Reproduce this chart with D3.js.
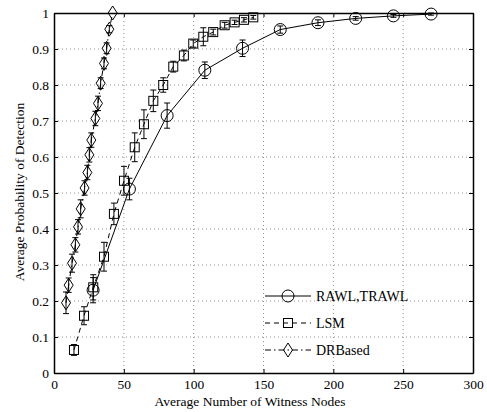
<!DOCTYPE html>
<html>
<head>
<meta charset="utf-8">
<script src="https://cdn.jsdelivr.net/npm/d3@7"></script>
<style>
  body { margin: 0; background: #fff; }
  svg text { font-family: "Liberation Serif", "DejaVu Serif", serif; fill: #000; }
</style>
</head>
<body>
<div id="content"></div>
<script>
// Series
const rawlX = [28, 54, 81, 108, 135, 162, 189, 216, 243, 270];
const rawlY = [0.23, 0.511, 0.715, 0.841, 0.902, 0.954, 0.973, 0.985, 0.992, 0.997];
const rawlErr = [0.035, 0.03, 0.035, 0.023, 0.023, 0.01, 0.008, 0.005, 0.004, 0.003];

const lsmX = [14.3, 21.5, 28.1, 35.8, 42.9, 50.1, 57.8, 64.4, 71.1, 78.2, 85.4, 93, 99.7, 106.9, 114, 122.2, 129.3, 136, 142.7];
const lsmY = [0.064, 0.159, 0.238, 0.323, 0.442, 0.534, 0.627, 0.691, 0.756, 0.80, 0.851, 0.882, 0.915, 0.934, 0.947, 0.966, 0.974, 0.981, 0.988];
const lsmErr = [0.015, 0.025, 0.035, 0.04, 0.03, 0.04, 0.04, 0.04, 0.03, 0.02, 0.015, 0.015, 0.01, 0.025, 0.008, 0.008, 0.006, 0.006, 0.005];

const drX = [8.6, 10.5, 12.9, 15.3, 17.2, 19.1, 21.9, 23.9, 25.3, 26.7, 29.6, 31.5, 33.4, 35.8, 37.7, 39.6, 42];
const drY = [0.195, 0.244, 0.305, 0.356, 0.406, 0.456, 0.514, 0.557, 0.606, 0.647, 0.707, 0.749, 0.805, 0.86, 0.902, 0.955, 1.0];
const drErr = [0.03, 0.02, 0.025, 0.02, 0.02, 0.025, 0.02, 0.02, 0.02, 0.02, 0.02, 0.02, 0.015, 0.015, 0.015, 0.01, 0.0];

const xTicks = [0, 50, 100, 150, 200, 250, 300];
const yTicks = [0, 0.1, 0.2, 0.3, 0.4, 0.5, 0.6, 0.7, 0.8, 0.9, 1];

const legendNames = ['RAWL,TRAWL', 'LSM', 'DRBased'];

const width = 487, height = 412;
const padLeft = 54, padRight = 473, padTop = 13, padBottom = 373;

const xScale = d3.scaleLinear().domain([0, 300]).range([padLeft, padRight]);
const yScale = d3.scaleLinear().domain([0, 1]).range([padBottom, padTop]);

const svg = d3.select('#content').append('svg')
    .attr('width', width).attr('height', height);

// Grid punteado
svg.append('g').selectAll('line')
    .data(xTicks.slice(1, -1)).enter().append('line')
    .attr('x1', d => xScale(d)).attr('x2', d => xScale(d))
    .attr('y1', padTop).attr('y2', padBottom)
    .attr('stroke', '#777').attr('stroke-width', 0.8).attr('stroke-dasharray', '1,3');
svg.append('g').selectAll('line')
    .data(yTicks.slice(1, -1)).enter().append('line')
    .attr('x1', padLeft).attr('x2', padRight)
    .attr('y1', d => yScale(d)).attr('y2', d => yScale(d))
    .attr('stroke', '#777').attr('stroke-width', 0.8).attr('stroke-dasharray', '1,3');

// Ejes (ticks hacia dentro en los cuatro lados)
const fmtY = d => d === 0 || d === 1 ? String(d) : d3.format('.1f')(d);
const axB = svg.append('g').attr('transform', `translate(0,${padBottom})`)
    .call(d3.axisBottom(xScale).tickValues(xTicks).tickSizeInner(-4).tickSizeOuter(0).tickPadding(6));
const axT = svg.append('g').attr('transform', `translate(0,${padTop})`)
    .call(d3.axisTop(xScale).tickValues(xTicks).tickSizeInner(-4).tickSizeOuter(0).tickFormat(''));
const axL = svg.append('g').attr('transform', `translate(${padLeft},0)`)
    .call(d3.axisLeft(yScale).tickValues(yTicks).tickSizeInner(-4).tickSizeOuter(0).tickPadding(5).tickFormat(fmtY));
const axR = svg.append('g').attr('transform', `translate(${padRight},0)`)
    .call(d3.axisRight(yScale).tickValues(yTicks).tickSizeInner(-4).tickSizeOuter(0).tickFormat(''));
[axB, axT, axL, axR].forEach(a => {
    a.select('.domain').attr('stroke', '#000').attr('stroke-width', 1.5);
    a.selectAll('.tick line').attr('stroke', '#000');
    a.selectAll('text').attr('font-size', 13.5).attr('font-family', '"Liberation Serif", serif');
});

// Series
const series = [
    { xs: rawlX, ys: rawlY, es: rawlErr, dash: null, marker: 'circle' },
    { xs: lsmX, ys: lsmY, es: lsmErr, dash: '5,4', marker: 'square' },
    { xs: drX, ys: drY, es: drErr, dash: '6,3,1.5,3', marker: 'diamond' }
];

const drawMarker = (g, type, cx, cy) => {
    if (type === 'circle') {
        g.append('circle').attr('cx', cx).attr('cy', cy).attr('r', 6)
            .attr('fill', 'none').attr('stroke', '#000').attr('stroke-width', 1);
    } else if (type === 'square') {
        g.append('rect').attr('x', cx - 4.5).attr('y', cy - 4.5).attr('width', 9).attr('height', 9)
            .attr('fill', 'none').attr('stroke', '#000').attr('stroke-width', 1);
    } else {
        g.append('path').attr('d', `M${cx},${cy - 7}L${cx + 4.5},${cy}L${cx},${cy + 7}L${cx - 4.5},${cy}Z`)
            .attr('fill', 'none').attr('stroke', '#000').attr('stroke-width', 1);
    }
};

series.forEach(s => {
    const pts = s.xs.map((x, i) => [x, s.ys[i], s.es[i]]);
    const line = d3.line().x(d => xScale(d[0])).y(d => yScale(d[1]));
    const g = svg.append('g');
    g.append('path').datum(pts).attr('d', line)
        .attr('fill', 'none').attr('stroke', '#000').attr('stroke-width', 1)
        .attr('stroke-dasharray', s.dash);
    pts.forEach(p => {
        const cx = xScale(p[0]);
        const y1 = yScale(p[1] + p[2]), y2 = yScale(p[1] - p[2]);
        if (p[2] > 0) {
            g.append('line').attr('x1', cx).attr('x2', cx).attr('y1', y1).attr('y2', y2)
                .attr('stroke', '#000').attr('stroke-width', 1);
            [y1, y2].forEach(yy => {
                g.append('line').attr('x1', cx - 3).attr('x2', cx + 3).attr('y1', yy).attr('y2', yy)
                    .attr('stroke', '#000').attr('stroke-width', 1);
            });
        }
        drawMarker(g, s.marker, cx, yScale(p[1]));
    });
});

// Leyenda (sin recuadro)
const legY = [296, 323, 350];
legendNames.forEach((name, i) => {
    const g = svg.append('g');
    g.append('line').attr('x1', 265).attr('x2', 311).attr('y1', legY[i]).attr('y2', legY[i])
        .attr('stroke', '#000').attr('stroke-width', 1).attr('stroke-dasharray', series[i].dash);
    drawMarker(g, series[i].marker, 288, legY[i]);
    g.append('text').attr('x', 316).attr('y', legY[i] + 5)
        .attr('font-size', 14).text(name);
});

// Etiquetas de ejes
svg.append('text').attr('x', 250).attr('y', 406).attr('text-anchor', 'middle')
    .attr('font-size', 13.5).text('Average Number of Witness Nodes');
svg.append('text').attr('transform', 'translate(24,192) rotate(-90)').attr('text-anchor', 'middle')
    .attr('font-size', 13.5).text('Average Probability of Detection');
</script>
</body>
</html>
